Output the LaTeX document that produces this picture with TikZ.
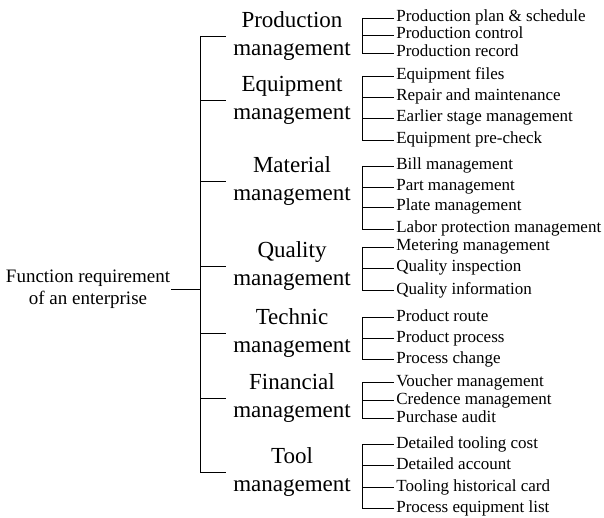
\documentclass[tikz,border=0pt]{standalone}
\usepackage{fontspec}
\setmainfont{Liberation Serif}

\begin{document}
\begin{tikzpicture}[x=1pt,y=-1pt,line width=0.7pt,
    big/.style={align=center,font=\fontsize{23}{28}\selectfont,inner sep=2pt},
    item/.style={anchor=west,font=\fontsize{17}{20}\selectfont,inner sep=2pt,text height=12pt,text depth=4pt}]
    \useasboundingbox (0,0) rectangle (604,518);
    \coordinate (trunk) at (200,0);
    \coordinate (sub) at (362,0);

    \node[align=center,font=\fontsize{19}{22}\selectfont,inner sep=1pt] (root) at (88,289) {Function requirement\\of an enterprise};

    \foreach \n/\y/\t in {prod/36/Production,equip/100/Equipment,mat/181/Material,qual/266/Quality,tech/333/Technic,fin/398/Financial,tool/472/Tool}
    \node[big] (\n) at (292,\y) {\t\\management};

    % main bracket
    \draw (prod.west -| trunk) -- (tool.west -| trunk);
    \draw (root.east) -- (root.east -| trunk);
    \foreach \n in {prod,equip,mat,qual,tech,fin,tool}
    \draw (\n.west -| trunk) -- ([xshift=-5pt]\n.west);

    % sub items
    \foreach \i/\y/\t in {1/18/Production plan \& schedule,2/35/Production control,3/53/Production record}
    \node[item] (prod\i) at (394,\y) {\t};
    \foreach \i/\y/\t in {1/76/Equipment files,2/97/Repair and maintenance,3/118/Earlier stage management,4/140/Equipment pre-check}
    \node[item] (equip\i) at (394,\y) {\t};
    \foreach \i/\y/\t in {1/166/Bill management,2/187/Part management,3/207/Plate management,4/229/Labor protection management}
    \node[item] (mat\i) at (394,\y) {\t};
    \foreach \i/\y/\t in {1/247/Metering management,2/268/Quality inspection,3/290/Quality information}
    \node[item] (qual\i) at (394,\y) {\t};
    \foreach \i/\y/\t in {1/317/Product route,2/338/Product process,3/359/Process change}
    \node[item] (tech\i) at (394,\y) {\t};
    \foreach \i/\y/\t in {1/382/Voucher management,2/400/Credence management,3/418/Purchase audit}
    \node[item] (fin\i) at (394,\y) {\t};
    \foreach \i/\y/\t in {1/444/Detailed tooling cost,2/465/Detailed account,3/487/Tooling historical card,4/508/Process equipment list}
    \node[item] (tool\i) at (394,\y) {\t};

    \foreach \n/\k in {prod/3,equip/4,mat/4,qual/3,tech/3,fin/3,tool/4}{
    \draw (\n1.west -| sub) -- (\n\k.west -| sub);
    \foreach \i in {1,...,\k}
    \draw (\n\i.west -| sub) -- (\n\i.west);
    }
\end{tikzpicture}
\end{document}
